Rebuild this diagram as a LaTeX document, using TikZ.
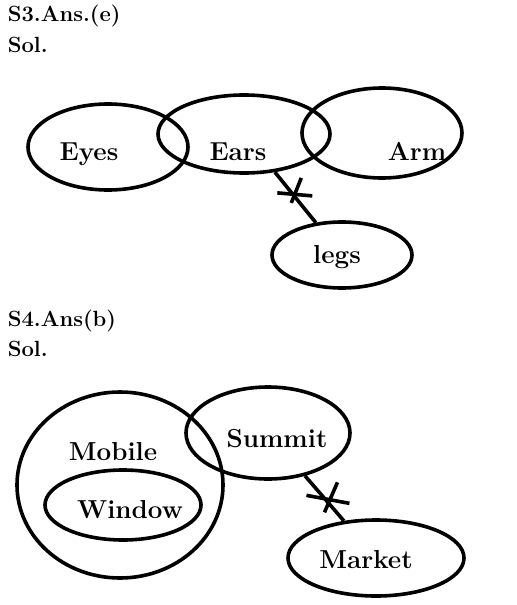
\documentclass[tikz,border=0pt]{standalone}
\usetikzlibrary{shapes.geometric}

\begin{document}
\begin{tikzpicture}[x=0.5pt,y=-0.5pt,line width=1.8pt,
	set/.style={draw,ellipse,inner sep=0pt},
	word/.style={anchor=base,font=\fontsize{13}{15}\selectfont\bfseries},
	head/.style={anchor=base west,inner sep=0pt,font=\fontsize{11}{13}\selectfont\bfseries}]
	\useasboundingbox (0,0) rectangle (516,605);
	% S3
	\node [head] (ans3) at (6,21) {S3.Ans.(e)};
	\node [head] (sol3) at (6,53) {Sol.};
	\node [set,minimum width=80pt,minimum height=43pt] (eyes) at (108,147) {};
	\node [set,minimum width=86pt,minimum height=39pt] (ears) at (244,134) {};
	\node [set,minimum width=80pt,minimum height=45pt] (arm) at (382,133) {};
	\node [set,minimum width=70pt,minimum height=33pt] (legs) at (342,255) {};
	\node [word] (eyest) at (89,160) {Eyes};
	\node [word] (earst) at (238,160) {Ears};
	\node [word] (armt) at (417,160) {Arm};
	\node [word] (legst) at (337,263) {legs};
	\draw (ears) -- node[pos=.45,coordinate] (cut1) {} (legs);
	\draw (cut1) +(-16,-2) -- +(19,1);
	\draw (cut1) +(8,-17) -- +(-2,8);
	% S4
	\node [head] (ans4) at (6,326) {S4.Ans(b)};
	\node [head] (sol4) at (6,356) {Sol.};
	\node [set,minimum width=103pt,minimum height=93pt] (mobile) at (120,485) {};
	\node [set,minimum width=82pt,minimum height=46pt] (summit) at (268,433) {};
	\node [set,minimum width=78pt,minimum height=35pt] (window) at (123,505) {};
	\node [set,minimum width=88pt,minimum height=38pt] (market) at (376,558) {};
	\node [word] (mobilet) at (113,460) {Mobile};
	\node [word] (summitt) at (277,447) {Summit};
	\node [word] (windowt) at (130,518) {Window};
	\node [word] (markett) at (366,568) {Market};
	\draw (summit) -- node[pos=.5,coordinate] (cut2) {} (market);
	\draw (cut2) +(-18,-3) -- +(25,5);
	\draw (cut2) +(13,-16) -- +(0,14);
\end{tikzpicture}
\end{document}
